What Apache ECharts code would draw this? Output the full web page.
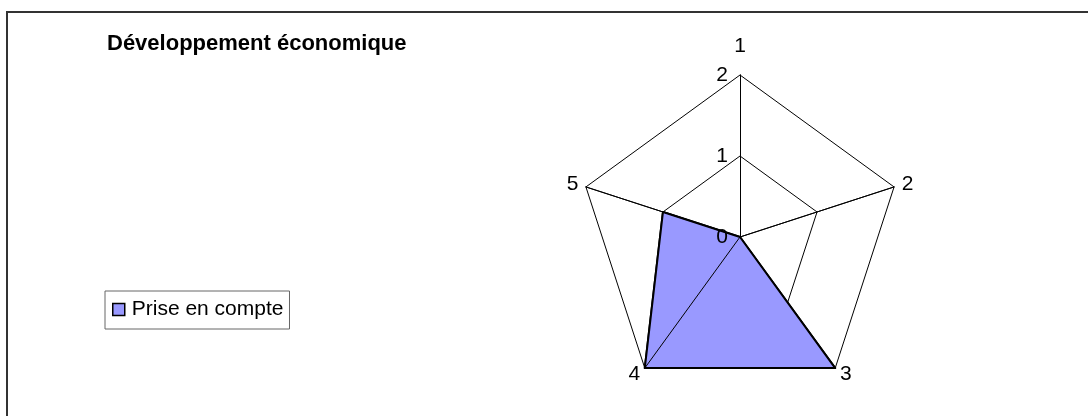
<!DOCTYPE html>
<html>
<head>
<meta charset="utf-8">
<script src="https://cdn.jsdelivr.net/npm/echarts@6/dist/echarts.min.js"></script>
<style>
  html, body { margin: 0; padding: 0; background: #fff; }
  #radar { width: 1088px; height: 416px; }
</style>
</head>
<body>
<div id="radar"></div>
<script>
// data
const indicatorNames = ['1', '2', '3', '4', '5']
const axisMax = 2
const seriesName = 'Prise en compte'
const seriesValues = [0, 0, 2, 2, 1]

const FONT = 'Liberation Sans, Arial, sans-serif'
const FILL = '#9999ff'

// echarts lays spokes out counter-clockwise, the picture runs clockwise
const order = [0, 4, 3, 2, 1]

const chart = echarts.init(document.getElementById('radar'))

function buildIndicators(withLabels) {
  return order.map((k, i) => {
    const item = { name: indicatorNames[k], min: 0, max: axisMax }
    if (withLabels && i === 0) {
      item.axisLabel = { show: true, color: '#000', fontSize: 21, fontFamily: FONT, margin: 12 }
    }
    return item
  })
}
const orderedValues = order.map(k => seriesValues[k])

const radarBase = {
  center: [740, 237],
  radius: 162,
  startAngle: 90,
  splitNumber: 2,
  shape: 'polygon',
  axisTick: { show: false },
  splitArea: { show: false }
}

chart.setOption({
  animation: false,
  textStyle: { fontFamily: FONT },
  title: {
    text: 'Développement économique',
    left: 107,
    top: 33,
    padding: 0,
    textStyle: { fontSize: 22, fontWeight: 'bold', color: '#000', fontFamily: FONT }
  },
  legend: {
    orient: 'vertical',
    left: 105,
    top: 291,
    data: [seriesName],
    icon: 'rect',
    itemWidth: 12,
    itemHeight: 12,
    padding: [8, 6, 9, 7],
    borderColor: '#666',
    borderWidth: 1,
    borderRadius: 0,
    itemStyle: { color: FILL, borderColor: '#000', borderWidth: 1.5 },
    textStyle: { fontSize: 21, color: '#000', fontFamily: FONT, padding: [0, 0, 0, 2] }
  },
  graphic: [{
    type: 'rect',
    shape: { x: 7, y: 12, width: 1200, height: 500 },
    style: { fill: 'none', stroke: '#333', lineWidth: 2 },
    silent: true
  }],
  radar: [
    Object.assign({}, radarBase, {
      z: 1,
      nameGap: 8,
      axisName: {
        color: '#000',
        fontSize: 21,
        fontFamily: FONT,
        formatter: (name) => name === indicatorNames[0] ? '{top|' + name + '}' : name,
        rich: { top: { fontSize: 21, fontFamily: FONT, color: '#000', padding: [0, 0, 10, 0] } }
      },
      axisLine: { lineStyle: { color: '#000', width: 1 } },
      splitLine: { lineStyle: { color: '#000', width: 1 } },
      indicator: buildIndicators(false)
    }),
    // spokes and scale labels again, on top of the filled area
    Object.assign({}, radarBase, {
      z: 3,
      axisName: { show: false },
      axisLine: { lineStyle: { color: '#000', width: 1 } },
      splitLine: { show: false },
      indicator: buildIndicators(true)
    })
  ],
  series: [
    {
      type: 'radar',
      name: seriesName,
      radarIndex: 0,
      z: 2,
      symbol: 'none',
      lineStyle: { color: '#000', width: 2 },
      itemStyle: { color: FILL },
      areaStyle: { color: FILL, opacity: 1 },
      data: [{ value: orderedValues, name: seriesName }]
    },
    {
      type: 'radar',
      name: seriesName + ' ',
      radarIndex: 0,
      z: 4,
      symbol: 'none',
      lineStyle: { color: '#000', width: 2 },
      itemStyle: { color: '#000' },
      data: [{ value: orderedValues, name: seriesName + ' ' }]
    }
  ]
})
</script>
</body>
</html>
